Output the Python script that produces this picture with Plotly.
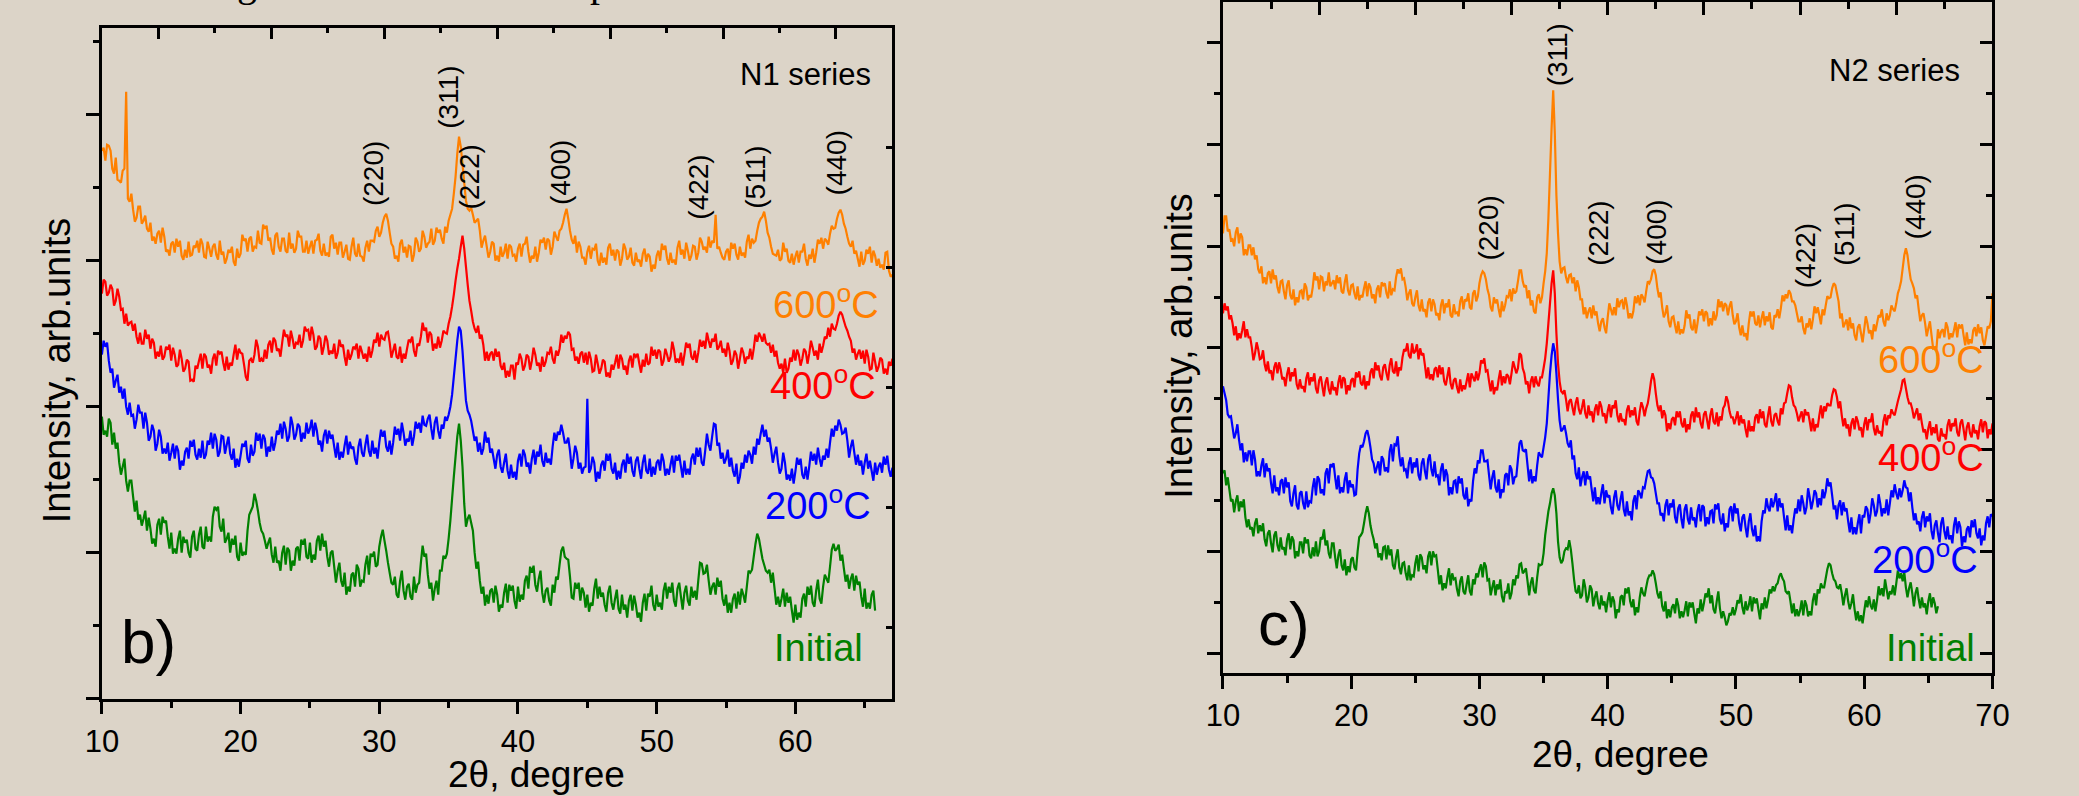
import plotly.graph_objects as go

# Diffraction patterns sampled on a 0.125 deg 2-theta grid starting at 10 deg.
# Intensities are in arbitrary units (curves are offset vertically per anneal).
# One row below = one degree of 2-theta (8 samples).
START_2THETA = 10.0
STEP_2THETA = 0.125

# ---------------- N1 series (panel b) ----------------
N1_600C = [
    548, 551, 538, 554, 553, 548, 530, 525,
    541, 519, 518, 516, 528, 530, 607, 500,
    497, 505, 489, 477, 481, 492, 492, 475,
    478, 483, 470, 467, 476, 458, 462, 455,
    465, 468, 456, 471, 462, 447, 449, 443,
    455, 457, 446, 460, 452, 458, 443, 439,
    449, 441, 457, 443, 444, 453, 451, 458,
    446, 460, 455, 442, 441, 457, 450, 442,
    452, 455, 444, 439, 458, 444, 447, 435,
    440, 449, 446, 452, 437, 433, 450, 441,
    445, 464, 458, 460, 447, 460, 462, 447,
    452, 451, 468, 456, 455, 474, 470, 473,
    458, 461, 449, 444, 463, 466, 452, 447,
    460, 460, 448, 446, 466, 450, 455, 446,
    450, 468, 462, 462, 447, 447, 458, 445,
    452, 458, 445, 458, 459, 465, 448, 443,
    455, 443, 446, 442, 462, 464, 450, 456,
    444, 456, 456, 441, 447, 454, 440, 439,
    452, 461, 445, 442, 455, 443, 442, 437,
    451, 458, 447, 458, 458, 457, 468, 472,
    462, 466, 476, 482, 485, 478, 466, 455,
    452, 440, 443, 437, 455, 459, 446, 452,
    441, 453, 452, 437, 444, 461, 457, 447,
    450, 468, 462, 451, 455, 457, 470, 454,
    458, 471, 466, 469, 460, 455, 472, 466,
    478, 484, 490, 505, 522, 545, 562, 552,
    535, 516, 498, 490, 488, 491, 484, 476,
    478, 480, 468, 451, 458, 463, 452, 441,
    447, 457, 455, 438, 443, 437, 452, 442,
    446, 455, 440, 454, 452, 443, 444, 437,
    450, 455, 442, 454, 455, 462, 447, 436,
    443, 440, 452, 437, 446, 459, 456, 461,
    449, 460, 458, 444, 452, 467, 462, 458,
    468, 470, 476, 484, 490, 480, 468, 459,
    455, 463, 446, 457, 452, 441, 441, 434,
    447, 453, 440, 450, 449, 455, 438, 433,
    446, 436, 441, 434, 451, 455, 443, 449,
    438, 449, 447, 433, 440, 455, 450, 439,
    442, 451, 436, 433, 446, 437, 439, 432,
    445, 450, 437, 445, 442, 427, 434, 430,
    443, 448, 438, 455, 449, 453, 440, 434,
    446, 436, 439, 434, 451, 458, 444, 449,
    440, 456, 448, 438, 443, 453, 452, 439,
    446, 461, 457, 449, 452, 446, 462, 451,
    458, 456, 484, 450, 452, 446, 441, 439,
    447, 450, 438, 456, 450, 455, 444, 439,
    452, 443, 446, 441, 457, 464, 450, 460,
    456, 458, 468, 476, 480, 482, 487, 478,
    466, 461, 452, 445, 444, 443, 449, 438,
    440, 456, 447, 450, 438, 436, 445, 434,
    442, 448, 436, 447, 447, 455, 440, 433,
    444, 440, 450, 436, 446, 459, 455, 461,
    450, 460, 458, 454, 465, 473, 470, 471,
    480, 486, 489, 484, 475, 470, 462, 455,
    452, 458, 445, 448, 440, 432, 447, 434,
    438, 449, 445, 452, 436, 448, 443, 433,
    440, 431, 434, 429, 446, 447, 428, 422,
    424,
]

N1_400C = [
    405, 419, 417, 403, 406, 414, 410, 393,
    398, 410, 402, 389, 390, 375, 385, 373,
    376, 377, 368, 375, 362, 355, 366, 355,
    355, 369, 360, 364, 350, 360, 356, 340,
    347, 342, 353, 339, 342, 352, 349, 354,
    338, 351, 344, 332, 334, 349, 340, 327,
    330, 339, 337, 318, 319, 317, 333, 330,
    338, 345, 330, 345, 342, 331, 334, 325,
    340, 345, 333, 348, 345, 347, 336, 328,
    342, 329, 336, 333, 344, 354, 339, 350,
    346, 345, 334, 322, 318, 338, 340, 336,
    344, 359, 352, 337, 340, 337, 349, 340,
    354, 358, 346, 361, 358, 348, 350, 342,
    356, 369, 362, 364, 352, 368, 360, 350,
    356, 355, 364, 351, 358, 372, 368, 369,
    358, 372, 364, 349, 352, 363, 360, 344,
    352, 363, 358, 344, 348, 345, 355, 340,
    346, 359, 352, 354, 342, 333, 349, 339,
    344, 352, 350, 355, 340, 353, 347, 340,
    345, 337, 352, 341, 348, 359, 356, 366,
    352, 364, 360, 359, 366, 367, 356, 341,
    348, 355, 342, 340, 352, 336, 345, 340,
    350, 359, 357, 362, 348, 342, 355, 353,
    362, 376, 368, 371, 356, 367, 364, 348,
    355, 350, 362, 351, 358, 368, 366, 365,
    375, 382, 392, 404, 418, 430, 440, 452,
    463, 450, 432, 414, 398, 388, 377, 370,
    366, 373, 360, 364, 354, 338, 347, 338,
    345, 347, 338, 350, 342, 347, 333, 329,
    336, 321, 328, 322, 333, 333, 319, 336,
    334, 345, 340, 328, 333, 344, 342, 329,
    338, 351, 344, 333, 336, 327, 342, 332,
    337, 346, 345, 352, 340, 335, 348, 343,
    350, 364, 356, 363, 360, 367, 364, 349,
    350, 338, 342, 335, 345, 347, 336, 346,
    334, 347, 340, 327, 328, 344, 335, 325,
    330, 339, 337, 322, 326, 321, 334, 329,
    336, 344, 330, 344, 340, 329, 333, 324,
    338, 343, 331, 345, 342, 345, 335, 326,
    339, 332, 345, 334, 336, 352, 343, 349,
    340, 349, 347, 333, 338, 350, 344, 337,
    342, 357, 349, 336, 340, 336, 346, 333,
    344, 356, 351, 355, 342, 339, 348, 336,
    346, 359, 352, 358, 350, 366, 358, 351,
    360, 357, 365, 349, 352, 358, 346, 350,
    342, 356, 348, 334, 338, 348, 344, 330,
    340, 351, 346, 335, 342, 340, 350, 339,
    350, 364, 357, 366, 362, 357, 365, 356,
    354, 355, 346, 354, 342, 348, 336, 330,
    335, 326, 340, 326, 330, 341, 337, 349,
    338, 349, 344, 333, 340, 350, 347, 335,
    345, 358, 351, 343, 348, 339, 355, 346,
    353, 362, 360, 371, 362, 375, 370, 369,
    375, 383, 387, 384, 378, 372, 368, 362,
    358, 346, 350, 339, 345, 349, 340, 348,
    335, 349, 342, 329, 330, 346, 337, 327,
    332, 341, 339, 325, 330, 324, 337, 333,
    340,
]

N1_200C = [
    344, 358, 352, 356, 338, 326, 330, 311,
    318, 324, 306, 312, 300, 310, 292, 284,
    296, 283, 284, 270, 279, 294, 286, 286,
    270, 286, 276, 258, 262, 274, 268, 248,
    255, 269, 262, 245, 250, 245, 256, 238,
    246, 255, 240, 253, 248, 229, 238, 233,
    247, 251, 240, 258, 252, 259, 244, 239,
    250, 241, 258, 240, 244, 258, 254, 266,
    250, 265, 259, 242, 247, 263, 262, 245,
    254, 262, 245, 239, 250, 231, 240, 232,
    243, 255, 252, 258, 240, 236, 254, 243,
    247, 266, 258, 265, 250, 264, 260, 242,
    252, 247, 262, 248, 256, 268, 264, 275,
    260, 277, 270, 257, 262, 282, 274, 259,
    264, 275, 272, 257, 266, 260, 276, 265,
    270, 279, 262, 276, 268, 254, 258, 247,
    263, 269, 255, 268, 260, 264, 252, 241,
    256, 239, 247, 241, 253, 263, 244, 257,
    250, 252, 240, 234, 252, 260, 246, 242,
    254, 264, 248, 242, 258, 245, 251, 240,
    256, 269, 262, 268, 252, 247, 258, 244,
    256, 272, 264, 270, 258, 276, 266, 253,
    260, 257, 268, 253, 262, 277, 270, 276,
    266, 283, 274, 273, 280, 284, 270, 259,
    276, 282, 268, 260, 274, 270, 282, 278,
    284, 292, 304, 322, 340, 358, 372, 368,
    348, 322, 298, 288, 284, 278, 268, 258,
    262, 247, 256, 244, 250, 267, 256, 261,
    246, 250, 240, 230, 244, 249, 232, 226,
    236, 245, 228, 220, 234, 221, 227, 219,
    238, 245, 232, 249, 244, 232, 236, 225,
    240, 249, 234, 247, 242, 254, 238, 232,
    246, 236, 240, 234, 252, 266, 258, 267,
    264, 274, 266, 256, 256, 261, 248, 230,
    240, 253, 246, 230, 236, 225, 231, 232,
    300, 226, 230, 242, 236, 217, 227, 220,
    234, 238, 228, 245, 238, 245, 230, 225,
    236, 219, 228, 220, 234, 239, 226, 245,
    235, 242, 228, 222, 238, 242, 230, 220,
    236, 244, 228, 225, 240, 222, 232, 224,
    236, 239, 228, 245, 238, 223, 230, 224,
    234, 243, 226, 243, 238, 244, 232, 221,
    238, 224, 230, 224, 240, 245, 234, 251,
    242, 251, 236, 233, 248, 265, 254, 248,
    262, 275, 274, 253, 256, 240, 246, 235,
    240, 249, 232, 241, 228, 222, 235, 215,
    222, 236, 230, 244, 236, 248, 244, 235,
    252, 244, 260, 254, 265, 274, 262, 269,
    257, 261, 250, 236, 245, 252, 236, 225,
    230, 246, 236, 219, 224, 218, 230, 215,
    227, 241, 234, 240, 224, 220, 232, 219,
    232, 247, 238, 245, 234, 251, 240, 232,
    243, 239, 250, 241, 256, 270, 262, 273,
    268, 279, 274, 265, 266, 271, 258, 241,
    252, 259, 246, 234, 244, 233, 238, 224,
    236, 245, 230, 238, 228, 218, 236, 224,
    232, 236, 226, 242, 234, 243, 229, 222,
    231,
]

N1_INITIAL = [
    282, 264, 268, 262, 280, 276, 254, 266,
    250, 256, 236, 224, 232, 240, 218, 207,
    218, 218, 202, 187, 198, 179, 184, 173,
    180, 188, 168, 181, 170, 155, 160, 152,
    174, 180, 164, 182, 176, 178, 162, 150,
    166, 145, 150, 145, 160, 168, 146, 162,
    156, 159, 146, 141, 162, 168, 150, 148,
    164, 172, 152, 150, 172, 157, 162, 157,
    182, 192, 189, 192, 172, 167, 180, 156,
    160, 166, 146, 160, 154, 163, 142, 138,
    156, 143, 146, 144, 168, 184, 188, 192,
    205, 198, 188, 176, 168, 165, 158, 150,
    156, 161, 144, 136, 152, 136, 138, 128,
    146, 153, 134, 151, 148, 128, 138, 133,
    150, 152, 138, 159, 154, 160, 142, 140,
    156, 136, 144, 139, 158, 163, 148, 165,
    152, 158, 142, 132, 146, 148, 132, 116,
    128, 136, 118, 112, 126, 104, 112, 107,
    124, 126, 112, 134, 130, 112, 118, 117,
    134, 143, 124, 145, 142, 147, 132, 134,
    152, 162, 169, 158, 148, 136, 126, 116,
    114, 122, 104, 101, 118, 128, 108, 99,
    112, 115, 102, 99, 122, 106, 114, 116,
    136, 153, 142, 145, 124, 110, 116, 98,
    110, 118, 104, 128, 128, 143, 140, 145,
    160, 178, 200, 222, 242, 262, 275, 258,
    232, 195, 172, 180, 184, 176, 168, 146,
    130, 137, 118, 105, 112, 93, 104, 95,
    108, 110, 96, 113, 104, 87, 94, 91,
    106, 115, 96, 114, 108, 113, 98, 90,
    112, 97, 104, 99, 118, 123, 110, 132,
    126, 133, 114, 107, 120, 128, 106, 96,
    108, 111, 98, 93, 114, 106, 122, 119,
    134, 148, 152, 142, 140, 139, 122, 101,
    100, 116, 110, 116, 98, 111, 106, 91,
    104, 87, 96, 93, 110, 120, 100, 112,
    102, 106, 94, 87, 106, 113, 96, 89,
    100, 109, 90, 85, 104, 89, 94, 81,
    98, 104, 88, 103, 94, 81, 86, 77,
    96, 105, 88, 105, 102, 113, 94, 88,
    104, 92, 96, 89, 108, 116, 100, 112,
    106, 116, 98, 92, 110, 116, 102, 89,
    106, 113, 98, 93, 112, 101, 108, 99,
    118, 136, 135, 125, 126, 134, 118, 104,
    112, 116, 104, 121, 112, 118, 100, 93,
    104, 86, 96, 86, 100, 105, 90, 107,
    94, 110, 104, 96, 112, 128, 126, 129,
    142, 155, 165, 160, 150, 140, 134, 128,
    126, 129, 116, 126, 110, 94, 102, 92,
    100, 110, 92, 106, 96, 102, 88, 76,
    94, 79, 86, 81, 100, 105, 92, 112,
    104, 113, 96, 92, 108, 119, 100, 95,
    112, 124, 120, 116, 132, 149, 155, 148,
    150, 154, 138, 144, 130, 117, 124, 110,
    120, 125, 108, 123, 114, 117, 102, 92,
    110, 90, 96, 90, 104, 108, 88,
]

# ---------------- N2 series (panel c) ----------------
N2_600C = [
    440, 457, 457, 442, 444, 433, 434, 427,
    441, 446, 430, 440, 436, 418, 424, 418,
    428, 428, 418, 426, 414, 418, 404, 400,
    407, 390, 396, 389, 400, 402, 390, 404,
    394, 398, 386, 380, 392, 393, 382, 374,
    388, 393, 378, 374, 384, 368, 376, 371,
    382, 383, 374, 390, 386, 373, 378, 376,
    386, 401, 393, 397, 384, 397, 396, 382,
    392, 388, 401, 387, 390, 393, 384, 398,
    390, 396, 382, 380, 391, 399, 383, 378,
    388, 389, 380, 374, 387, 373, 378, 376,
    385, 392, 377, 390, 386, 375, 379, 370,
    384, 388, 376, 391, 388, 390, 380, 375,
    392, 378, 384, 383, 396, 404, 400, 405,
    394, 395, 386, 373, 380, 384, 370, 367,
    376, 383, 368, 362, 374, 362, 364, 356,
    371, 375, 362, 374, 369, 358, 360, 353,
    368, 374, 360, 370, 366, 374, 358, 356,
    369, 360, 361, 357, 372, 377, 364, 374,
    372, 380, 366, 364, 380, 383, 372, 377,
    390, 398, 402, 400, 394, 384, 378, 366,
    362, 376, 370, 374, 364, 356, 372, 362,
    368, 377, 376, 384, 372, 385, 380, 382,
    392, 403, 403, 392, 386, 388, 375, 383,
    368, 373, 362, 360, 376, 379, 370, 376,
    390, 402, 420, 455, 500, 545, 583, 540,
    478, 440, 412, 400, 405, 406, 396, 390,
    398, 399, 390, 396, 382, 393, 386, 374,
    374, 359, 366, 355, 362, 366, 355, 368,
    358, 362, 350, 342, 352, 355, 346, 340,
    356, 370, 364, 358, 366, 358, 375, 366,
    372, 373, 364, 376, 368, 355, 360, 355,
    362, 377, 370, 378, 368, 379, 376, 371,
    382, 392, 390, 394, 402, 404, 398, 385,
    376, 381, 366, 356, 360, 368, 352, 346,
    356, 357, 348, 340, 352, 339, 344, 340,
    348, 363, 355, 359, 346, 343, 354, 340,
    350, 362, 358, 364, 352, 362, 360, 347,
    355, 348, 362, 353, 358, 374, 366, 372,
    362, 370, 368, 358, 367, 372, 358, 349,
    352, 360, 346, 338, 348, 337, 340, 333,
    350, 362, 357, 362, 350, 348, 358, 346,
    355, 362, 348, 357, 352, 361, 346, 344,
    358, 356, 364, 355, 365, 378, 372, 379,
    375, 383, 380, 372, 372, 368, 360, 352,
    352, 357, 345, 339, 350, 346, 355, 344,
    354, 367, 360, 366, 358, 349, 364, 358,
    368, 377, 375, 376, 385, 390, 388, 380,
    372, 355, 360, 346, 350, 354, 343, 356,
    345, 350, 338, 333, 346, 349, 340, 331,
    344, 357, 350, 340, 343, 334, 349, 342,
    350, 358, 356, 364, 352, 347, 360, 353,
    358, 368, 364, 362, 370, 380, 385, 392,
    405, 418, 425, 418, 405, 394, 390, 385,
    375, 378, 364, 352, 358, 360, 350, 337,
    345, 352, 338, 325, 326, 323, 344, 335,
    342, 344, 336, 351, 346, 334, 340, 336,
    343, 351, 336, 349, 345, 349, 338, 328,
    341, 329, 334, 330, 343, 346, 337, 349,
    340, 346, 333, 328, 337, 347, 345, 352,
    380,
]

N2_400C = [
    360, 370, 363, 367, 354, 358, 350, 338,
    347, 333, 340, 335, 343, 352, 336, 344,
    336, 336, 326, 313, 320, 331, 324, 314,
    315, 323, 309, 302, 312, 300, 303, 293,
    306, 311, 300, 311, 304, 294, 296, 287,
    299, 306, 292, 301, 297, 305, 289, 284,
    294, 285, 287, 281, 295, 301, 288, 296,
    292, 300, 285, 280, 293, 297, 287, 277,
    291, 296, 284, 279, 292, 283, 286, 278,
    291, 298, 285, 296, 294, 279, 288, 283,
    293, 295, 286, 301, 296, 302, 290, 288,
    298, 284, 292, 288, 301, 305, 295, 311,
    303, 308, 297, 293, 306, 309, 300, 293,
    308, 315, 302, 300, 312, 297, 306, 303,
    316, 324, 322, 330, 318, 315, 330, 320,
    322, 329, 314, 325, 318, 320, 308, 295,
    306, 294, 299, 293, 304, 306, 296, 308,
    299, 306, 292, 288, 297, 306, 290, 284,
    293, 295, 286, 280, 294, 282, 288, 284,
    292, 300, 286, 300, 296, 292, 302, 293,
    300, 313, 310, 315, 302, 303, 292, 282,
    293, 279, 286, 283, 294, 303, 288, 297,
    290, 299, 297, 289, 300, 312, 306, 300,
    305, 320, 318, 305, 300, 289, 292, 280,
    292, 297, 286, 297, 290, 287, 296, 296,
    305, 315, 330, 350, 370, 390, 403, 380,
    340, 310, 292, 282, 280, 283, 274, 262,
    272, 274, 266, 258, 270, 276, 264, 259,
    266, 274, 260, 255, 268, 258, 262, 251,
    264, 269, 258, 272, 267, 257, 260, 250,
    262, 269, 256, 268, 265, 273, 258, 251,
    260, 252, 254, 248, 263, 268, 256, 263,
    258, 266, 252, 248, 262, 271, 266, 257,
    265, 270, 280, 292, 300, 294, 280, 268,
    262, 268, 255, 263, 258, 242, 250, 244,
    254, 256, 248, 262, 256, 262, 250, 246,
    255, 241, 249, 244, 258, 262, 251, 266,
    256, 261, 250, 245, 259, 262, 253, 244,
    258, 265, 252, 249, 261, 247, 257, 253,
    265, 268, 277, 272, 262, 256, 256, 249,
    255, 262, 248, 258, 250, 254, 244, 236,
    253, 242, 247, 242, 256, 259, 250, 264,
    255, 262, 249, 246, 258, 267, 252, 247,
    258, 260, 252, 248, 265, 259, 270, 271,
    280, 288, 287, 276, 268, 266, 260, 252,
    257, 262, 251, 264, 258, 261, 252, 242,
    255, 242, 249, 246, 258, 268, 255, 267,
    262, 270, 268, 268, 278, 284, 283, 276,
    265, 272, 258, 247, 255, 245, 249, 237,
    250, 255, 244, 257, 252, 243, 246, 236,
    249, 256, 243, 254, 251, 260, 245, 238,
    248, 240, 242, 237, 252, 259, 248, 258,
    255, 264, 260, 258, 265, 272, 278, 284,
    293, 294, 285, 276, 270, 270, 264, 255,
    260, 265, 253, 260, 250, 241, 244, 234,
    245, 252, 238, 246, 240, 249, 234, 232,
    245, 237, 239, 234, 248, 254, 242, 250,
    247, 255, 241, 237, 250, 254, 244, 233,
    246, 251, 240, 236, 249, 240, 243, 234,
    247, 254, 241, 252, 250, 235, 244, 239,
    250,
]

N2_200C = [
    287, 280, 273, 259, 256, 257, 246, 235,
    240, 249, 234, 223, 230, 211, 221, 212,
    222, 222, 208, 223, 214, 197, 202, 197,
    208, 215, 196, 210, 202, 205, 190, 180,
    198, 182, 186, 178, 192, 194, 180, 196,
    186, 191, 172, 167, 180, 188, 168, 164,
    180, 182, 170, 164, 182, 166, 172, 171,
    186, 195, 178, 197, 194, 180, 184, 178,
    200, 205, 190, 209, 207, 210, 196, 184,
    198, 180, 186, 181, 194, 201, 180, 193,
    186, 189, 178, 179, 204, 220, 228, 226,
    232, 240, 243, 236, 226, 214, 210, 200,
    206, 212, 198, 217, 214, 202, 206, 201,
    222, 229, 212, 229, 228, 237, 218, 207,
    216, 203, 204, 195, 210, 216, 200, 211,
    206, 215, 198, 193, 210, 215, 202, 194,
    214, 219, 204, 197, 212, 197, 198, 188,
    204, 210, 192, 204, 198, 178, 186, 179,
    192, 193, 180, 197, 190, 195, 178, 174,
    186, 167, 174, 172, 192, 205, 200, 213,
    210, 223, 223, 212, 212, 213, 198, 184,
    196, 203, 186, 181, 194, 175, 184, 181,
    198, 200, 188, 208, 204, 189, 196, 197,
    214, 230, 233, 223, 222, 224, 208, 192,
    204, 190, 197, 192, 208, 221, 218, 216,
    226, 236, 250, 275, 300, 318, 330, 322,
    300, 274, 253, 242, 244, 248, 240, 230,
    226, 233, 214, 218, 200, 194, 206, 187,
    196, 202, 188, 202, 194, 197, 184, 172,
    186, 169, 176, 169, 180, 189, 170, 183,
    176, 178, 166, 159, 176, 183, 168, 163,
    174, 182, 164, 157, 172, 158, 162, 153,
    172, 178, 164, 183, 180, 175, 186, 185,
    194, 202, 203, 196, 195, 190, 180, 170,
    170, 158, 160, 152, 168, 174, 158, 170,
    166, 174, 156, 150, 165, 169, 154, 145,
    164, 169, 154, 149, 166, 153, 156, 146,
    162, 169, 152, 168, 166, 147, 156, 149,
    162, 163, 150, 169, 164, 170, 154, 149,
    160, 142, 150, 146, 164, 167, 152, 170,
    160, 165, 150, 142, 156, 159, 146, 136,
    152, 160, 144, 137, 148, 132, 137, 132,
    152, 163, 160, 175, 166, 162, 175, 166,
    172, 180, 162, 175, 166, 170, 156, 143,
    158, 143, 148, 140, 154, 165, 160, 174,
    162, 178, 170, 159, 166, 185, 176, 164,
    172, 183, 180, 166, 175, 168, 184, 175,
    182, 195, 187, 191, 178, 164, 168, 154,
    168, 173, 158, 171, 162, 165, 152, 141,
    156, 139, 146, 139, 150, 159, 140, 158,
    156, 167, 164, 150, 160, 175, 168, 157,
    162, 179, 170, 157, 165, 160, 174, 158,
    170, 183, 176, 189, 180, 174, 185, 176,
    183, 193, 186, 185, 172, 181, 166, 153,
    160, 149, 152, 142, 156, 162, 146, 157,
    152, 160, 142, 134, 148, 153, 140, 131,
    150, 156, 142, 134, 147, 134, 138, 130,
    148, 156, 140, 152, 146, 127, 137, 131,
    144, 147, 136, 153, 146, 154, 140, 135,
    145, 128, 138, 133, 150, 157, 146, 159,
    157,
]

N2_INITIAL = [
    200, 203, 188, 196, 184, 172, 174, 161,
    172, 178, 162, 172, 166, 174, 156, 146,
    154, 144, 146, 137, 150, 155, 140, 148,
    142, 150, 134, 127, 140, 143, 130, 121,
    138, 142, 128, 122, 136, 124, 126, 118,
    134, 140, 124, 137, 133, 115, 122, 117,
    131, 131, 120, 136, 130, 134, 118, 115,
    126, 117, 132, 117, 122, 136, 134, 144,
    128, 133, 120, 115, 130, 130, 116, 105,
    118, 124, 108, 103, 114, 98, 107, 101,
    114, 116, 106, 103, 122, 136, 138, 141,
    150, 160, 167, 160, 148, 140, 134, 125,
    130, 116, 120, 113, 126, 127, 114, 128,
    118, 124, 108, 104, 116, 124, 106, 99,
    110, 111, 100, 93, 108, 93, 98, 97,
    110, 118, 102, 119, 116, 104, 108, 100,
    117, 122, 108, 122, 117, 118, 104, 89,
    98, 83, 90, 85, 96, 105, 88, 100,
    94, 95, 84, 77, 92, 97, 82, 79,
    89, 98, 82, 78, 94, 89, 100, 96,
    104, 109, 96, 111, 107, 93, 94, 78,
    86, 93, 78, 89, 84, 94, 77, 71,
    82, 80, 90, 74, 80, 94, 88, 98,
    95, 109, 110, 100, 102, 105, 92, 78,
    90, 96, 83, 80, 96, 109, 108, 109,
    120, 138, 150, 162, 170, 180, 185, 178,
    160, 132, 116, 110, 113, 122, 125, 124,
    133, 124, 110, 94, 82, 80, 88, 75,
    78, 94, 86, 71, 76, 88, 84, 67,
    76, 82, 70, 64, 78, 68, 72, 61,
    73, 81, 66, 77, 72, 55, 64, 61,
    76, 78, 68, 85, 80, 86, 72, 66,
    74, 58, 66, 61, 76, 86, 80, 77,
    86, 94, 98, 98, 103, 99, 90, 80,
    75, 82, 67, 62, 72, 55, 64, 56,
    66, 69, 60, 75, 68, 55, 62, 56,
    63, 72, 57, 71, 66, 71, 60, 50,
    65, 60, 74, 62, 70, 80, 76, 85,
    70, 78, 64, 60, 72, 82, 65, 55,
    62, 56, 48, 52, 60, 58, 66, 58,
    64, 73, 70, 79, 66, 59, 72, 63,
    68, 77, 62, 76, 70, 75, 64, 54,
    70, 64, 76, 65, 73, 84, 80, 87,
    82, 88, 90, 97, 100, 95, 92, 82,
    80, 82, 72, 60, 70, 57, 64, 57,
    63, 73, 58, 73, 68, 57, 62, 58,
    73, 80, 68, 84, 80, 90, 86, 86,
    95, 104, 110, 108, 100, 94, 92, 86,
    85, 89, 80, 68, 78, 85, 72, 64,
    70, 79, 64, 53, 62, 52, 58, 50,
    62, 73, 66, 77, 68, 64, 74, 62,
    73, 87, 78, 85, 77, 94, 84, 74,
    82, 79, 88, 78, 90, 103, 95, 100,
    92, 101, 86, 76, 85, 91, 80, 67,
    80, 86, 74, 65, 76, 66, 70, 59,
    72, 80, 66, 76, 70, 60, 67,
]

SERIES_LABELS = ["600<sup>o</sup>C", "400<sup>o</sup>C", "200<sup>o</sup>C", "Initial"]
MILLER = ["(220)", "(311)", "(222)", "(400)", "(422)", "(511)", "(440)"]

ORANGE, RED, BLUE, GREEN = "#FF8000", "#FF0000", "#0000FF", "#008000"
COLORS = [ORANGE, RED, BLUE, GREEN]
BG = "rgb(220,212,200)"
SANS = "Liberation Sans, Arial, sans-serif"

W, H = 2079, 796


def two_theta(values):
    return [START_2THETA + STEP_2THETA * i for i in range(len(values))]


fig = go.Figure()

for series, color in zip([N1_600C, N1_400C, N1_200C, N1_INITIAL], COLORS):
    fig.add_trace(go.Scatter(x=two_theta(series), y=series, mode="lines",
                             line=dict(color=color, width=2.2, simplify=False),
                             xaxis="x", yaxis="y", hoverinfo="skip"))
for series, color in zip([N2_600C, N2_400C, N2_200C, N2_INITIAL], COLORS):
    fig.add_trace(go.Scatter(x=two_theta(series), y=series, mode="lines",
                             line=dict(color=color, width=2.2, simplify=False),
                             xaxis="x2", yaxis="y2", hoverinfo="skip"))

# empty traces so the secondary frame axes (top / right) are rendered
for xa, ya in [("x3", "y"), ("x", "y3"), ("x4", "y2"), ("x2", "y4")]:
    fig.add_trace(go.Scatter(x=[None], y=[None], xaxis=xa, yaxis=ya,
                             mode="lines", hoverinfo="skip"))

AX = dict(showgrid=False, zeroline=False, showline=True, linecolor="black",
          linewidth=2.5, tickcolor="black", tickwidth=2.5)
TICKFONT = dict(family=SANS, size=31, color="black")


def minor(ticks, length, dtick, tick0):
    return dict(ticks=ticks, ticklen=length, dtick=dtick, tick0=tick0,
                tickcolor="black", tickwidth=2.5, showgrid=False)


dom_b_x = [86.3 / W, 890.0 / W]
dom_b_y = [1 - 698.7 / H, 1 - 28.0 / H]
dom_c_x = [1226.0 / W, 2008.3 / W]
dom_c_y = [1 - 673.3 / H, 1 - 2.3 / H]

fig.update_layout(
    width=W, height=H,
    margin=dict(l=0, r=0, t=0, b=0),
    paper_bgcolor=BG, plot_bgcolor=BG,
    showlegend=False, hovermode=False,
    # panel b
    xaxis=dict(**AX, domain=dom_b_x, anchor="y", range=[10, 67],
               ticks="outside", ticklen=13, tick0=10, dtick=10,
               minor=minor("outside", 6.5, 5, 10), tickfont=TICKFONT),
    yaxis=dict(**AX, domain=dom_b_y, anchor="x", range=[0, 670.7],
               ticks="outside", ticklen=13, tick0=0, dtick=146,
               minor=minor("outside", 6.5, 73, 0), showticklabels=False),
    xaxis3=dict(**AX, overlaying="x", side="top", anchor="y", range=[0, 14],
                ticks="inside", ticklen=11, tick0=1, dtick=2,
                minor=minor("inside", 5, 1, 0), showticklabels=False),
    yaxis3=dict(**AX, overlaying="y", side="right", anchor="x",
                range=[0, 670.7], ticks="inside", ticklen=7, tick0=71.7,
                dtick=120, showticklabels=False),
    # panel c
    xaxis2=dict(**AX, domain=dom_c_x, anchor="y2", range=[10, 70],
                ticks="outside", ticklen=13, tick0=10, dtick=10,
                minor=minor("outside", 6.5, 5, 10), tickfont=TICKFONT),
    yaxis2=dict(**AX, domain=dom_c_y, anchor="x2", range=[0, 671],
                ticks="outside", ticklen=13, tick0=20.3, dtick=101.7,
                minor=minor("outside", 6.5, 50.85, 20.3), showticklabels=False),
    xaxis4=dict(**AX, overlaying="x2", side="top", anchor="y2", range=[0, 16],
                ticks="inside", ticklen=12.5, tick0=0, dtick=2,
                minor=minor("inside", 6.5, 1, 0), showticklabels=False),
    yaxis4=dict(**AX, overlaying="y2", side="right", anchor="x2",
                range=[0, 671], ticks="inside", ticklen=13, tick0=20.3,
                dtick=101.7, minor=minor("inside", 7, 50.85, 20.3),
                showticklabels=False),
)


def note(text, x, y, size, color="black", angle=0, xanchor="center",
         yanchor="middle", family=SANS):
    return dict(text=text, x=x / W, y=1 - y / H, xref="paper", yref="paper",
                showarrow=False, textangle=angle, xanchor=xanchor,
                yanchor=yanchor, font=dict(family=family, size=size, color=color))


notes = [
    note("2θ, degree", 528, 774, 37),
    note("2θ, degree", 1630, 754, 37),
    note("Intensity, arb.units", 41, 370, 38, angle=-90),
    note("Intensity, arb.units", 1181, 346, 38, angle=-90),
    note("N1 series", 870, 74, 31, xanchor="right"),
    note("N2 series", 1977, 71, 31, xanchor="right"),
    note("b)", 104, 641, 62, xanchor="left"),
    note("c)", 1260, 623, 62, xanchor="left"),
    # fragments of the caption line above the figure
    note("g", 234, 7, 40, yanchor="bottom", family="Liberation Serif, serif"),
    note("p", 593, 7, 40, yanchor="bottom", family="Liberation Serif, serif"),
]

label_pos_b = [(878, 302), (875, 383), (870, 503), (862, 648)]
label_pos_c = [(2002, 357), (2002, 455), (1996, 557), (1993, 648)]
for text, color, pb, pc in zip(SERIES_LABELS, COLORS, label_pos_b, label_pos_c):
    notes.append(note(text, pb[0], pb[1], 38, color=color, xanchor="right"))
    notes.append(note(text, pc[0], pc[1], 38, color=color, xanchor="right"))

miller_pos_b = [(362, 174), (438, 97), (460, 177), (553, 172), (692, 187),
                (750, 177), (833, 163)]
miller_pos_c = [(1495, 228), (1567, 55), (1607, 233), (1667, 232),
                (1818, 256), (1857, 234), (1930, 207)]
for text, pb, pc in zip(MILLER, miller_pos_b, miller_pos_c):
    notes.append(note(text, pb[0], pb[1], 28, angle=-90))
    notes.append(note(text, pc[0], pc[1], 28, angle=-90))

fig.update_layout(annotations=notes)

fig.write_html("out.html")
